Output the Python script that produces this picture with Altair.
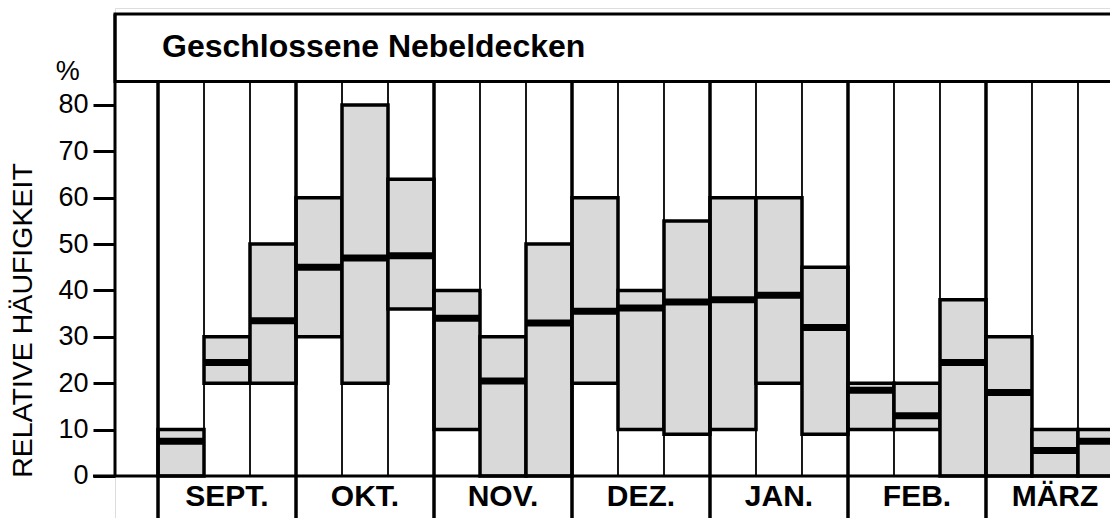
import altair as alt
import pandas as pd

# ---- data (three decades per month) ----
months = ["SEPT.", "OKT.", "NOV.", "DEZ.", "JAN.", "FEB.", "MÄRZ"]
low    = [0, 20, 20,   30, 20, 36,   10, 0, 0,    20, 10, 9,    10, 20, 9,    10, 10, 0,    0, 0, 0]
median = [7.5, 24.5, 33.5,   45, 47, 47.5,   34, 20.5, 33,   35.5, 36.2, 37.5,   38, 39, 32,   18.5, 13, 24.5,   18, 5.5, 7.5]
high   = [10, 30, 50,   60, 80, 64,   40, 30, 50,   60, 40, 55,   60, 60, 45,   20, 20, 38,   30, 10, 10]
y_ticks = [0, 10, 20, 30, 40, 50, 60, 70, 80]
title_text = "Geschlossene Nebeldecken"
y_title = "RELATIVE HÄUFIGKEIT"
unit_text = "%"

FONT = "Liberation Sans"
FILL = "#d9d9d9"

# scale geometry (x in decade-columns, y in percent)
X_MIN, X_MAX = -0.935, 20.696
Y_MIN, Y_MAX = -9.057, 100.916
BAND_LO, BAND_HI = 85.07, 99.62
X_FAR = 23.0

n = len(low)
df = pd.DataFrame({
    "x0": list(range(n)),
    "x1": [i + 1 for i in range(n)],
    "low": low, "median": median, "high": high,
})

# frame / separator lines
rows = []
for i in range(n):
    rows.append({"x": i, "x2": i, "y": 0, "y2": BAND_LO, "w": 3.5 if i % 3 == 0 else 1.8})
for m in range(len(months) + 1):
    rows.append({"x": 3 * m, "x2": 3 * m, "y": 0, "y2": Y_MIN, "w": 3.5})
rows.append({"x": X_MIN, "x2": X_MIN, "y": 0, "y2": BAND_HI, "w": 3})
rows.append({"x": -1.413, "x2": X_FAR, "y": 0, "y2": 0, "w": 3})
lines_df = pd.DataFrame(rows)

band_df = pd.DataFrame({"x": [X_MIN], "x2": [X_FAR], "y": [BAND_LO], "y2": [BAND_HI]})
month_df = pd.DataFrame({"m": months, "xc": [3 * i + 1.5 for i in range(len(months))], "y": [-4.6] * len(months)})
title_df = pd.DataFrame({"t": [title_text], "x": [0.0], "y": [92.4]})
unit_df = pd.DataFrame({"t": [unit_text], "x": [-1.96], "y": [87.1]})

xs = alt.Scale(domain=[X_MIN, X_MAX], nice=False, zero=False)
ys = alt.Scale(domain=[Y_MIN, Y_MAX], nice=False, zero=False)

yaxis = alt.Axis(
    values=y_ticks, domain=False, grid=False,
    tickSize=22, tickWidth=3, tickColor="black",
    labelFontSize=27, labelColor="black", labelPadding=5, labelFont=FONT,
    title=y_title, titleFontSize=28.5, titleFontWeight="normal", titleColor="black",
    titleFont=FONT, titleAngle=270, titleX=-93, titleY=312,
    titleAlign="center", titleBaseline="middle", titleAnchor="middle",
)


def X(f):
    return alt.X(f, scale=xs, axis=None)


def Y(f):
    return alt.Y(f, scale=ys, axis=yaxis)


boxes = alt.Chart(df).mark_rect(fill=FILL, stroke="black", strokeWidth=3.5).encode(
    x=X("x0:Q"), x2="x1:Q", y=Y("low:Q"), y2="high:Q",
)

band = alt.Chart(band_df).mark_rect(fill="white", stroke="black", strokeWidth=3).encode(
    x=X("x:Q"), x2="x2:Q", y=Y("y:Q"), y2="y2:Q",
)

medians = alt.Chart(df).mark_rule(color="black", strokeWidth=7).encode(
    x=X("x0:Q"), x2="x1:Q", y=Y("median:Q"),
)

frame_lines = alt.Chart(lines_df).mark_rule(color="black").encode(
    x=X("x:Q"), x2="x2:Q", y=Y("y:Q"), y2="y2:Q",
    strokeWidth=alt.StrokeWidth("w:Q", scale=None, legend=None),
)

month_labels = alt.Chart(month_df).mark_text(
    font=FONT, fontSize=30, fontWeight="bold", color="black",
    align="center", baseline="middle",
).encode(x=X("xc:Q"), y=Y("y:Q"), text="m:N")

title_mark = alt.Chart(title_df).mark_text(
    font=FONT, fontSize=32, fontWeight="bold", color="black",
    align="left", baseline="middle", dx=4,
).encode(x=X("x:Q"), y=Y("y:Q"), text="t:N")

unit_mark = alt.Chart(unit_df).mark_text(
    font=FONT, fontSize=27, color="black", align="center", baseline="middle",
).encode(x=X("x:Q"), y=Y("y:Q"), text="t:N")

chart = alt.layer(
    boxes, band, frame_lines, medians, month_labels, title_mark, unit_mark,
).properties(
    width=995, height=510,
    padding={"left": 115, "top": 8, "right": 0, "bottom": 0},
    autosize=alt.AutoSizeParams(type="none"),
    background="white",
).configure_view(stroke=None).configure(font=FONT)

chart.save("out.html", embed_options={"renderer": "svg", "actions": False})
